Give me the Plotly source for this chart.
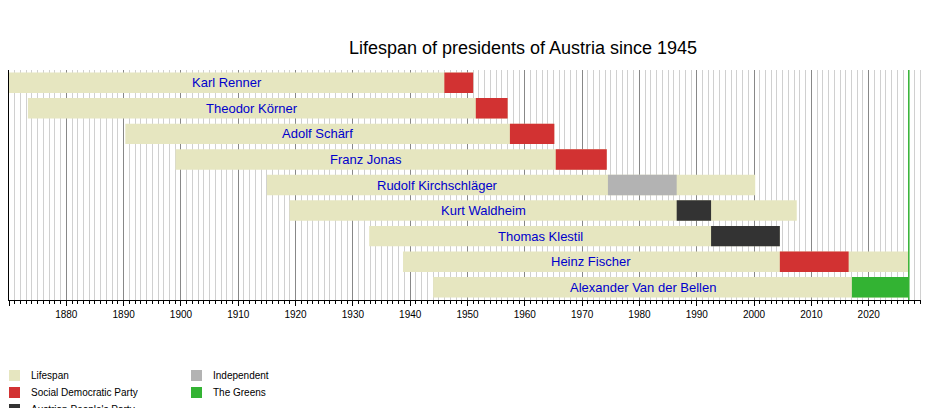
import plotly.graph_objects as go

# lifespan and term data (decimal years)
names = ["Karl Renner", "Theodor Körner", "Adolf Schärf", "Franz Jonas", "Rudolf Kirchschläger",
         "Kurt Waldheim", "Thomas Klestil", "Heinz Fischer", "Alexander Van der Bellen"]
born = [1870.0, 1873.3, 1890.3, 1899.05, 1915.0, 1918.95, 1932.85, 1938.75, 1944.0]
died = [1950.99, 1957.0, 1965.15, 1974.3, 2000.2, 2007.45, 2004.5, 2027.0, 2027.0]
term_start = [1945.96, 1951.45, 1957.4, 1965.4, 1974.5, 1986.5, 1992.5, 2004.5, 2017.07]
term_end = [1950.99, 1957.0, 1965.15, 1974.3, 1986.5, 1992.5, 2004.5, 2016.5, 2027.0]
party = ["Social Democratic Party", "Social Democratic Party", "Social Democratic Party",
         "Social Democratic Party", "Independent", "Austrian People's Party",
         "Austrian People's Party", "Social Democratic Party", "The Greens"]
today = 2027.0

colors = {"Lifespan": "#e6e6c0", "Social Democratic Party": "#d23232",
          "Austrian People's Party": "#333333", "Independent": "#b3b3b3", "The Greens": "#33b333"}
legend_items = ["Lifespan", "Social Democratic Party", "Austrian People's Party", "Independent", "The Greens"]

font = "Liberation Sans, Arial, sans-serif"
fig = go.Figure()
fig.add_bar(y=names, x=[d - b for b, d in zip(born, died)], base=born, orientation="h",
            marker_color=colors["Lifespan"], marker_line_width=0, width=0.8, hoverinfo="skip")
fig.add_bar(y=names, x=[e - s for s, e in zip(term_start, term_end)], base=term_start, orientation="h",
            marker_color=[colors[p] for p in party], marker_line_width=0, width=0.8, hoverinfo="skip")

for n, b, s in zip(names, born, term_start):
    fig.add_annotation(x=(b + s) / 2, y=n, text=n, showarrow=False,
                       font=dict(family=font, size=13, color="#0000cc"))

fig.add_vline(x=today, line_color="#33b333", line_width=1.5)

# manual legend below the chart
for i, item in enumerate(legend_items):
    col, row = divmod(i, 3)
    x0 = col * 182
    y0 = 362 + row * 17
    fig.add_shape(type="rect", xref="paper", yref="paper",
                  x0=x0 / 917, x1=(x0 + 11) / 917, y0=(292 - y0) / 230, y1=(292 - y0 - 11) / 230,
                  fillcolor=colors[item], line_width=0)
    fig.add_annotation(xref="paper", yref="paper", x=(x0 + 20) / 917, y=(292 - y0 - 5.5) / 230,
                       text=item, showarrow=False, xanchor="left", yanchor="middle",
                       font=dict(family=font, size=10, color="black"))

fig.update_layout(
    width=929, height=408, margin=dict(l=1, r=11, t=62, b=116, autoexpand=False),
    paper_bgcolor="white", plot_bgcolor="white", barmode="overlay", showlegend=False,
    title=dict(text="Lifespan of presidents of Austria since 1945", x=515 / 929, xanchor="center",
               y=1 - 40 / 408, yanchor="middle", font=dict(family=font, size=18, color="black")),
    font=dict(family=font, size=10, color="black"),
)
fig.update_xaxes(range=[1870, 2030], dtick=10, tick0=1870, showgrid=True, gridcolor="#888888", gridwidth=1,
                 ticks="outside", ticklen=5, tickcolor="black", showline=True, linecolor="black",
                 minor=dict(dtick=1, showgrid=True, gridcolor="#d0d0d0", ticks="outside", ticklen=3,
                            tickcolor="black"),
                 automargin=False, zeroline=False, fixedrange=True)
fig.update_yaxes(autorange="reversed", showticklabels=False, showgrid=False, showline=True,
                 linecolor="black", automargin=False, zeroline=False)

fig.write_html("out.html")
